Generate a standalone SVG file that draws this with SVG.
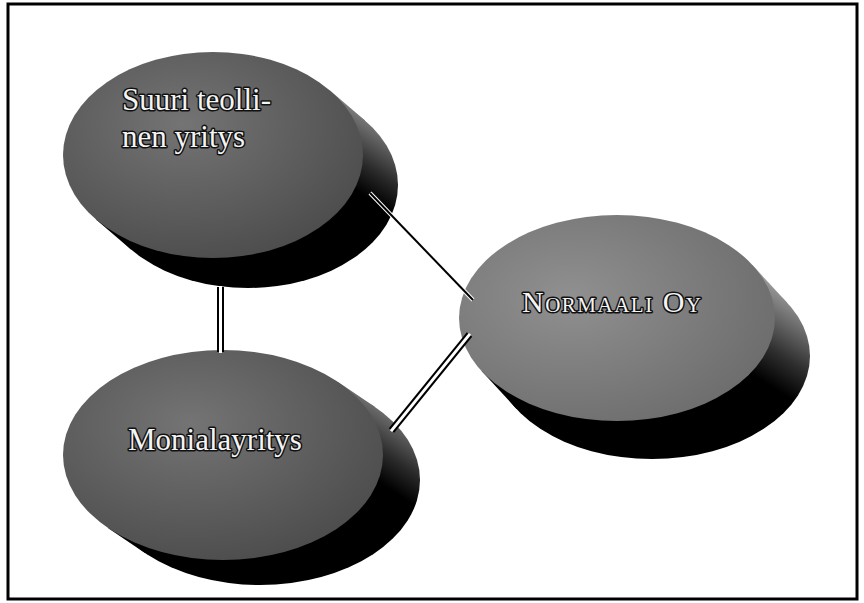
<svg xmlns="http://www.w3.org/2000/svg" width="864" height="603" viewBox="0 0 864 603">
<style>
.lbl{font-family:"Liberation Serif","Times New Roman",serif;fill:#f4f4f4;stroke:#111;stroke-width:3;paint-order:stroke;stroke-linejoin:round}
.side{stroke:none}
.single-under{stroke:#fff;stroke-width:4;fill:none}
.single{stroke:#000;stroke-width:2;fill:none}
.dbl-outer{stroke:#000;stroke-width:7;fill:none}
.dbl-inner{stroke:#fff;stroke-width:3;fill:none}
</style>
<defs>
<linearGradient id="side1" gradientUnits="userSpaceOnUse" x1="392" y1="125" x2="335" y2="215">
<stop offset="0" stop-color="#8a8a8a"/><stop offset="0.45" stop-color="#2a2a2a"/><stop offset="0.7" stop-color="#000"/>
</linearGradient>
<linearGradient id="side2" gradientUnits="userSpaceOnUse" x1="415" y1="415" x2="355" y2="505">
<stop offset="0" stop-color="#8a8a8a"/><stop offset="0.45" stop-color="#2a2a2a"/><stop offset="0.7" stop-color="#000"/>
</linearGradient>
<linearGradient id="side3" gradientUnits="userSpaceOnUse" x1="805" y1="300" x2="735" y2="410">
<stop offset="0" stop-color="#a0a0a0"/><stop offset="0.45" stop-color="#303030"/><stop offset="0.7" stop-color="#000"/>
</linearGradient>
<radialGradient id="faceDark" cx="0.4" cy="0.35" r="0.7">
<stop offset="0" stop-color="#747474"/><stop offset="1" stop-color="#4c4c4c"/>
</radialGradient>
<radialGradient id="faceLight" cx="0.35" cy="0.4" r="0.75">
<stop offset="0" stop-color="#909090"/><stop offset="1" stop-color="#6a6a6a"/>
</radialGradient>
</defs>
<rect x="8" y="4" width="849" height="595" fill="#fff" stroke="#000" stroke-width="3"/>

<g id="node-suuri">
<ellipse class="side" cx="248" cy="185" rx="150" ry="103" fill="url(#side1)"/>
<polygon class="side" points="330,90.6 365,120.6 131,249.4 96,219.4" fill="url(#side1)"/>
<ellipse cx="213" cy="155" rx="150" ry="103" fill="url(#faceDark)"/>
<text class="lbl" font-size="31"><tspan x="122" y="110">Suuri teolli-</tspan><tspan x="122" y="147">nen yritys</tspan></text>
</g>

<g id="node-moniala">
<ellipse class="side" cx="260" cy="480" rx="160" ry="105" fill="url(#side2)"/>
<polygon class="side" points="337.7,381.8 374.7,406.8 145.3,553.2 108.3,528.2" fill="url(#side2)"/>
<ellipse cx="223" cy="455" rx="160" ry="105" fill="url(#faceDark)"/>
<text class="lbl" font-size="31" x="128" y="450">Monialayritys</text>
</g>

<g id="node-normaali">
<ellipse class="side" cx="652" cy="356" rx="158" ry="103" fill="url(#side3)"/>
<polygon class="side" points="752.4,265 787.4,303 516.6,409 481.6,371" fill="url(#side3)"/>
<ellipse cx="617" cy="318" rx="158" ry="103" fill="url(#faceLight)"/>
<text class="lbl" x="522" y="312" letter-spacing="1.5"><tspan font-size="30">N</tspan><tspan font-size="21">ORMAALI</tspan><tspan font-size="30"> O</tspan><tspan font-size="21">Y</tspan></text>
</g>

<g id="connectors">
<line class="single-under" x1="370" y1="193" x2="473" y2="300"/>
<line class="single" x1="370" y1="193" x2="473" y2="300"/>
<line class="dbl-outer" x1="220.5" y1="287" x2="220.5" y2="352"/>
<line class="dbl-inner" x1="220.5" y1="286" x2="220.5" y2="353"/>
<line class="dbl-outer" x1="391.5" y1="430.5" x2="469.5" y2="334.5"/>
<line class="dbl-inner" x1="391" y1="431.1" x2="470" y2="333.9"/>
</g>
</svg>
